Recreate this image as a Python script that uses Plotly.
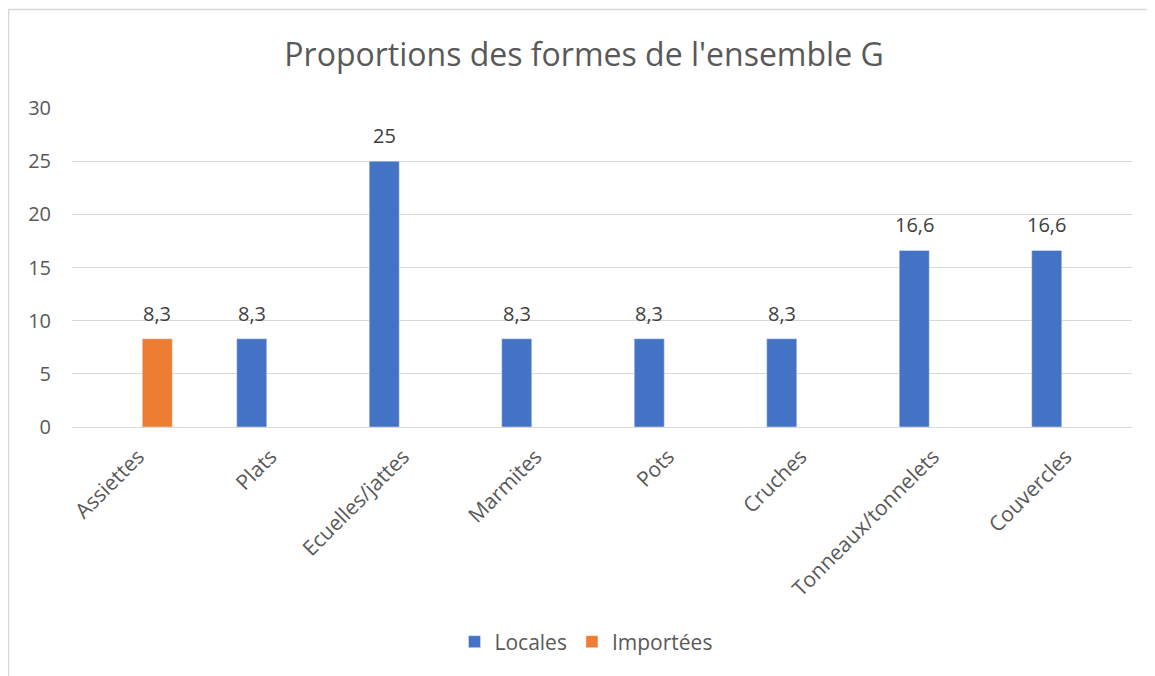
import plotly.graph_objects as go

categories = ["Assiettes", "Plats", "Ecuelles/jattes", "Marmites", "Pots",
              "Cruches", "Tonneaux/tonnelets", "Couvercles"]
locales = [None, 8.3, 25, 8.3, 8.3, 8.3, 16.6, 16.6]
importees = [8.3, None, None, None, None, None, None, None]
y_ticks = [0, 5, 10, 15, 20, 25, 30]

def fmt(v):
    return "" if v is None else ("%g" % v).replace(".", ",")

FONT = "Open Sans"
BLUE = "#4472C4"
ORANGE = "#ED7D31"

# page has an 8px body margin: work in figure coordinates = page - 8
OFF = 8
W, H = 1155 - OFF, 676 - OFF
L = 72 - OFF
T = 108 - OFF
R = W - (1132 - OFF)
B = H - (427 - OFF)
pw = W - L - R
ph = H - T - B

fig = go.Figure()
fig.add_trace(go.Bar(name="Locales", x=categories, y=locales, marker_color=BLUE))
fig.add_trace(go.Bar(name="Importées", x=categories, y=importees, marker_color=ORANGE))

# data labels
annotations = []
for vals, shift in ((locales, -19), (importees, 19)):
    for c, v in zip(categories, vals):
        if v is None:
            continue
        annotations.append(dict(x=c, y=v, xref="x", yref="y", text=fmt(v),
                                showarrow=False, xshift=shift, yshift=10,
                                yanchor="bottom", xanchor="center",
                                font=dict(family=FONT, size=20, color="#404040")))

fig.update_layout(
    width=W, height=H,
    margin=dict(l=L, r=R, t=T, b=B, pad=0),
    paper_bgcolor="white", plot_bgcolor="white",
    barmode="group", bargap=0.426, bargroupgap=0.21,
    title=dict(text="Proportions des formes de l'ensemble G",
               x=(584 - OFF - L) / pw, xref="paper", xanchor="center",
               y=1 - (55 - OFF) / H, yanchor="middle",
               font=dict(family=FONT, size=32, color="#595959")),
    font=dict(family=FONT, size=20, color="#595959"),
    showlegend=True,
    legend=dict(orientation="h", x=(586 - L - OFF) / pw, xanchor="center",
                y=(T + ph - (642 - OFF)) / ph, yanchor="middle",
                font=dict(family=FONT, size=21, color="#595959"),
                traceorder="normal"),
    annotations=annotations,
)
fig.update_xaxes(showgrid=False, showline=True, linecolor="#D9D9D9", linewidth=1,
                 tickangle=-45, ticks="", ticklabelstandoff=8,
                 tickfont=dict(family=FONT, size=21, color="#595959"))
fig.update_yaxes(range=[0, 30], tickvals=y_ticks, showgrid=True, gridcolor="#D9D9D9",
                 gridwidth=1, zeroline=False, showline=False, ticks="",
                 ticklabelstandoff=20,
                 tickfont=dict(family=FONT, size=20, color="#595959"))

# chart border (Excel chart area outline)
fig.add_shape(type="rect", xref="paper", yref="paper",
              x0=(0.5 - L) / pw, x1=(W + 20 - L) / pw,
              y0=(T + ph - (H + 20)) / ph, y1=(T + ph - 1.5) / ph,
              line=dict(color="#D9D9D9", width=1.5), fillcolor="rgba(0,0,0,0)", layer="below")

fig.write_html("out.html")
